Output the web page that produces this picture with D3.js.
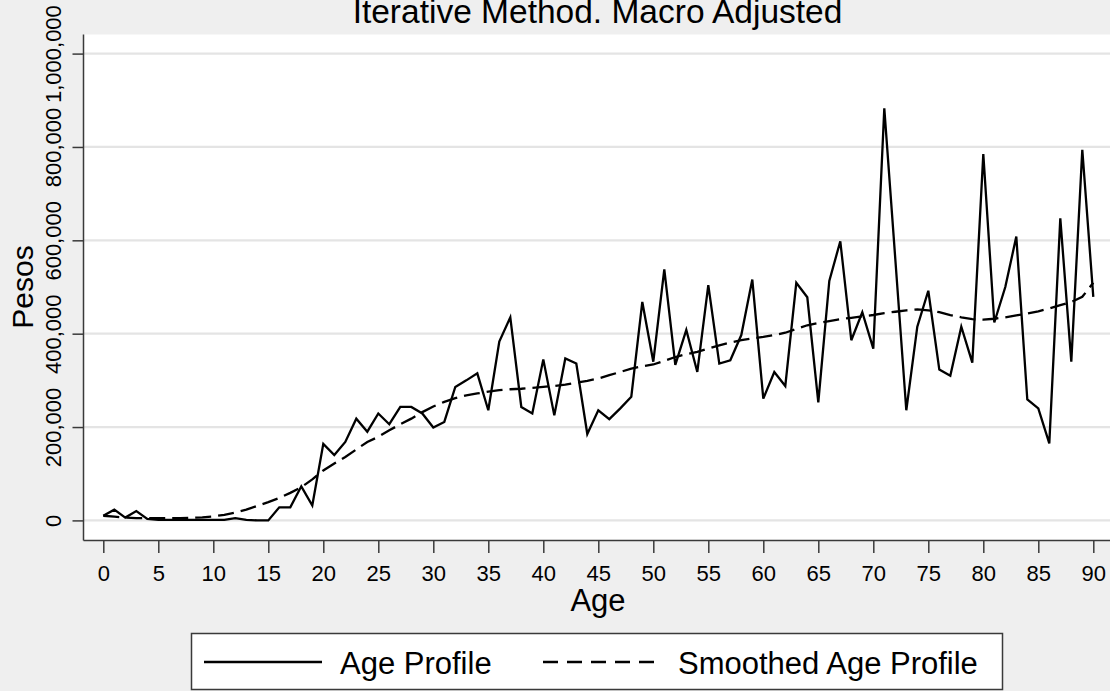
<!DOCTYPE html>
<html>
<head>
<meta charset="utf-8">
<script src="https://cdn.jsdelivr.net/npm/d3@7"></script>
<style>
    body { margin: 0; background: #efefef; }
    svg { display: block; font-family: Arial, "Liberation Sans", sans-serif; }
</style>
</head>
<body>
<div id="chart"></div>
<script>
// Ages 0..90 and the two series
const ages = d3.range(0, 91);

const ageProfile = [
    10000, 23000, 6000, 20000, 3000, 1000, 1000, 1000, 1000, 1000,
    1000, 1000, 5000, 1000, 0, 0, 28000, 28000, 73000, 32000,
    164000, 140000, 168000, 218000, 190000, 229000, 206000, 243000, 243000, 229000,
    199000, 211000, 286000, 300000, 315000, 236000, 383000, 435000, 243000, 229000,
    345000, 225000, 347000, 336000, 185000, 236000, 217000, 240000, 265000, 468000,
    340000, 538000, 333000, 408000, 318000, 504000, 336000, 343000, 397000, 516000,
    261000, 318000, 288000, 509000, 478000, 253000, 513000, 598000, 386000, 446000,
    368000, 883000, 560000, 236000, 415000, 492000, 323000, 310000, 415000, 338000,
    785000, 424000, 500000, 608000, 259000, 240000, 165000, 647000, 340000, 794000,
    479000
];

const smoothedProfile = [
    10000, 8000, 6000, 5000, 5000, 5000, 5000, 5000, 5500, 6500,
    8500, 12000, 17000, 23000, 31000, 39000, 48000, 59000, 71000, 88000,
    107000, 122000, 136000, 152000, 168000, 179000, 193000, 206000, 218000, 232000,
    244000, 254000, 262000, 268000, 272000, 276000, 279000, 281000, 282000, 284000,
    286000, 288000, 291000, 295000, 299000, 304000, 311000, 318000, 325000, 330000,
    334000, 342000, 350000, 356000, 361000, 368000, 375000, 381000, 386000, 390000,
    393000, 397000, 402000, 410000, 418000, 423000, 427000, 431000, 434000, 437000,
    440000, 444000, 447000, 450000, 452000, 450000, 446000, 440000, 435000, 431000,
    430000, 432000, 435000, 439000, 443000, 448000, 454000, 461000, 468000, 479000,
    509000
];

const xTicks = d3.range(0, 91, 5);
const yTicks = [0, 200000, 400000, 600000, 800000, 1000000];
const legendLabels = ['Age Profile', 'Smoothed Age Profile'];

const WIDTH = 1110;
const HEIGHT = 691;
const PLOT = {left: 83.5, top: 34.5, right: 1112, bottom: 540.5};

const svg = d3.select('#chart').append('svg')
    .attr('width', WIDTH)
    .attr('height', HEIGHT);

svg.append('rect')
    .attr('width', WIDTH).attr('height', HEIGHT)
    .attr('fill', '#efefef');

const xScale = d3.scaleLinear().domain([0, 90]).range([103.3, 1093.3]);
const yScale = d3.scaleLinear().domain([0, 1000000]).range([520.4, 53.6]);

// plot region
svg.append('rect')
    .attr('x', PLOT.left).attr('y', PLOT.top)
    .attr('width', PLOT.right - PLOT.left)
    .attr('height', PLOT.bottom - PLOT.top)
    .attr('fill', '#ffffff');

// gridlines
svg.append('g').selectAll('line')
    .data(yTicks)
    .enter().append('line')
    .attr('x1', PLOT.left).attr('x2', PLOT.right)
    .attr('y1', d => yScale(d)).attr('y2', d => yScale(d))
    .attr('stroke', '#e4e4e4')
    .attr('stroke-width', 2.2);

// y axis
const yAxis = svg.append('g')
    .attr('transform', `translate(${PLOT.left}, 0)`)
    .call(d3.axisLeft(yScale).tickValues(yTicks).tickSize(11).tickSizeOuter(0)
        .tickFormat(d3.format(',')));
yAxis.select('.domain').attr('stroke', '#3a3a3a').attr('stroke-width', 1.5)
    .attr('d', `M0,${PLOT.top}V${PLOT.bottom}`);
yAxis.selectAll('.tick line').attr('stroke', '#3a3a3a').attr('stroke-width', 1.5);
yAxis.selectAll('.tick text')
    .attr('font-size', 22)
    .attr('fill', '#000')
    .attr('x', 0).attr('dy', 0)
    .attr('text-anchor', 'middle')
    .attr('transform', 'translate(-22.5, 0) rotate(-90)');

// x axis
const xAxis = svg.append('g')
    .attr('transform', `translate(0, ${PLOT.bottom})`)
    .call(d3.axisBottom(xScale).tickValues(xTicks).tickSize(12.5).tickSizeOuter(0));
xAxis.select('.domain').attr('stroke', '#3a3a3a').attr('stroke-width', 1.5)
    .attr('d', `M${PLOT.left},0H${PLOT.right}`);
xAxis.selectAll('.tick line').attr('stroke', '#3a3a3a').attr('stroke-width', 1.5);
xAxis.selectAll('.tick text')
    .attr('font-size', 22)
    .attr('fill', '#000')
    .attr('y', 40).attr('dy', 0);

// lines
const line = d3.line().x((d, i) => xScale(ages[i])).y(d => yScale(d));

svg.append('path')
    .datum(smoothedProfile)
    .attr('d', line)
    .attr('fill', 'none')
    .attr('stroke', '#000')
    .attr('stroke-width', 2.3)
    .attr('stroke-dasharray', '16,7');

svg.append('path')
    .datum(ageProfile)
    .attr('d', line)
    .attr('fill', 'none')
    .attr('stroke', '#000')
    .attr('stroke-width', 2.3)
    .attr('stroke-linejoin', 'miter');

// titles
svg.append('text')
    .attr('x', 597.5).attr('y', 23)
    .attr('text-anchor', 'middle')
    .attr('font-size', 33.5)
    .text('Iterative Method. Macro Adjusted');

svg.append('text')
    .attr('x', 598).attr('y', 611)
    .attr('text-anchor', 'middle')
    .attr('font-size', 31)
    .text('Age');

svg.append('text')
    .attr('transform', 'translate(33, 287) rotate(-90)')
    .attr('text-anchor', 'middle')
    .attr('font-size', 30)
    .text('Pesos');

// legend
const legend = svg.append('g');
legend.append('rect')
    .attr('x', 191.5).attr('y', 633.5)
    .attr('width', 811).attr('height', 56)
    .attr('fill', '#ffffff')
    .attr('stroke', '#3a3a3a')
    .attr('stroke-width', 1.5);

const legendItems = [
    {label: legendLabels[0], x0: 204, x1: 322, tx: 340, dash: null},
    {label: legendLabels[1], x0: 543, x1: 660, tx: 678, dash: '15,9'}
];
legendItems.forEach(item => {
    legend.append('line')
        .attr('x1', item.x0).attr('x2', item.x1)
        .attr('y1', 662).attr('y2', 662)
        .attr('stroke', '#000')
        .attr('stroke-width', 2.3)
        .attr('stroke-dasharray', item.dash);
    legend.append('text')
        .attr('x', item.tx).attr('y', 673.5)
        .attr('font-size', 31)
        .text(item.label);
});
</script>
</body>
</html>
